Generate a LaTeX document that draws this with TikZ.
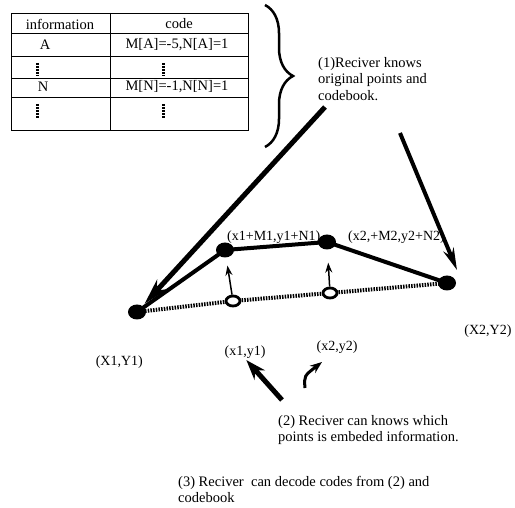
\documentclass[tikz,border=0pt]{standalone}
\usepackage{fontspec}
\setmainfont{Liberation Serif}
\usetikzlibrary{arrows.meta,decorations.pathreplacing,shapes.geometric}

\begin{document}
\begin{tikzpicture}[x=1pt,y=-1pt,
  dot/.style={ellipse,fill=black,inner sep=0pt,minimum width=18pt,minimum height=15pt},
  hole/.style={ellipse,draw=black,line width=2.8pt,fill=white,inner sep=0pt,
    minimum width=14pt,minimum height=10pt},
  lbl/.style={font=\fontsize{14}{16}\selectfont,inner sep=0pt},
  txt/.style={font=\fontsize{14.5}{16.5}\selectfont,align=left,inner sep=0pt},
  cell/.style={font=\fontsize{14.5}{16}\selectfont,inner sep=0pt},
  vdots/.style={line width=3pt,dash pattern=on 1.6pt off 1.4pt},
  rule/.style={line width=0.8pt},
  lift/.style={-{Stealth[length=10pt,width=7pt]},line width=1.5pt}]

  \useasboundingbox (0,0) rectangle (515,508);

  %% codebook table
  \draw[rule] (11,13) rectangle (248,130);
  \foreach \y in {33,56,78,97} \draw[rule] (11,\y) -- (248,\y);
  \draw[rule] (110,13) -- (110,130);
  \node[cell] (hinfo) at (60,24) {information};
  \node[cell] (hcode) at (179,24) {code};
  \node[cell] (infA) at (45,45) {A};
  \node[cell] (codeA) at (177,45) {M[A]=-5,N[A]=1};
  \node[cell] (infN) at (43,87) {N};
  \node[cell] (codeN) at (177,87) {M[N]=-1,N[N]=1};
  \foreach \x in {37,163} {
    \draw[vdots] (\x,63) -- (\x,76);
    \draw[vdots] (\x,104) -- (\x,118);
  }

  %% brace and (1)
  \draw[line width=2.5pt,decorate,decoration={brace,amplitude=28pt}]
    (265,5) -- (265,147);
  \node[txt,anchor=north west] (know) at (318,57)
    {(1)Reciver knows\\original points and\\codebook.};

  %% original and moved points
  \coordinate (c1) at (233,301);
  \coordinate (c2) at (330,293);
  \node[dot] (X1) at (137,312) {};
  \node[dot] (P1) at (225,250) {};
  \node[dot] (P2) at (327,242) {};
  \node[dot] (X2) at (447,283) {};
  \draw[line width=4pt] (X1.center) -- (P1.center) -- (P2.center) -- (X2.center);
  \draw[line width=4pt,dash pattern=on 1.5pt off 1.2pt]
    (X1.center) -- (c1) -- (c2) -- (X2.center);
  \node[hole] (o1) at (c1) {};
  \node[hole] (o2) at (c2) {};
  \draw[lift,shorten >=8pt] (o1) -- (P1);
  \draw[lift,shorten >=13pt] (o2) -- (P2);

  %% labels
  \node[lbl,anchor=west] (lP1) at (227,237) {(x1+M1,y1+N1)};
  \node[lbl,anchor=west] (lP2) at (348,237) {(x2,+M2,y2+N2)};
  \node[lbl] (lX2) at (488,331) {(X2,Y2)};
  \node[lbl,anchor=east] (lX1) at (143,362) {(X1,Y1)};
  \node[lbl] (lx1) at (245,352) {(x1,y1)};
  \node[lbl] (lx2) at (337,347) {(x2,y2)};

  %% receiver arrows
  \coordinate (k1) at (325,107);
  \coordinate (k2) at (400,133);
  \coordinate (k2tip) at (457,270);
  \draw[-{Stealth[length=26pt,width=14pt]},line width=5pt,shorten >=3pt] (k1) -- (X1);
  \draw[-{Stealth[length=22pt,width=11pt]},line width=4pt] (k2) -- (k2tip);

  \coordinate (r1) at (282,400);
  \coordinate (r2) at (305,388);
  \draw[-{Stealth[length=20pt,width=14pt]},line width=5pt,shorten >=2pt] (r1) -- (lx1.south);
  \draw[-{Stealth[length=12pt,width=9pt]},line width=3pt]
    (r2) .. controls (304,376) .. (322,362);

  %% (2) and (3)
  \node[txt,anchor=north west] (which) at (278,415)
    {(2) Reciver can knows which\\points is embeded information.};
  \node[txt,anchor=north west] (decode) at (178,476)
    {(3) Reciver\ \ can decode codes from (2) and\\codebook};

\end{tikzpicture}
\end{document}
